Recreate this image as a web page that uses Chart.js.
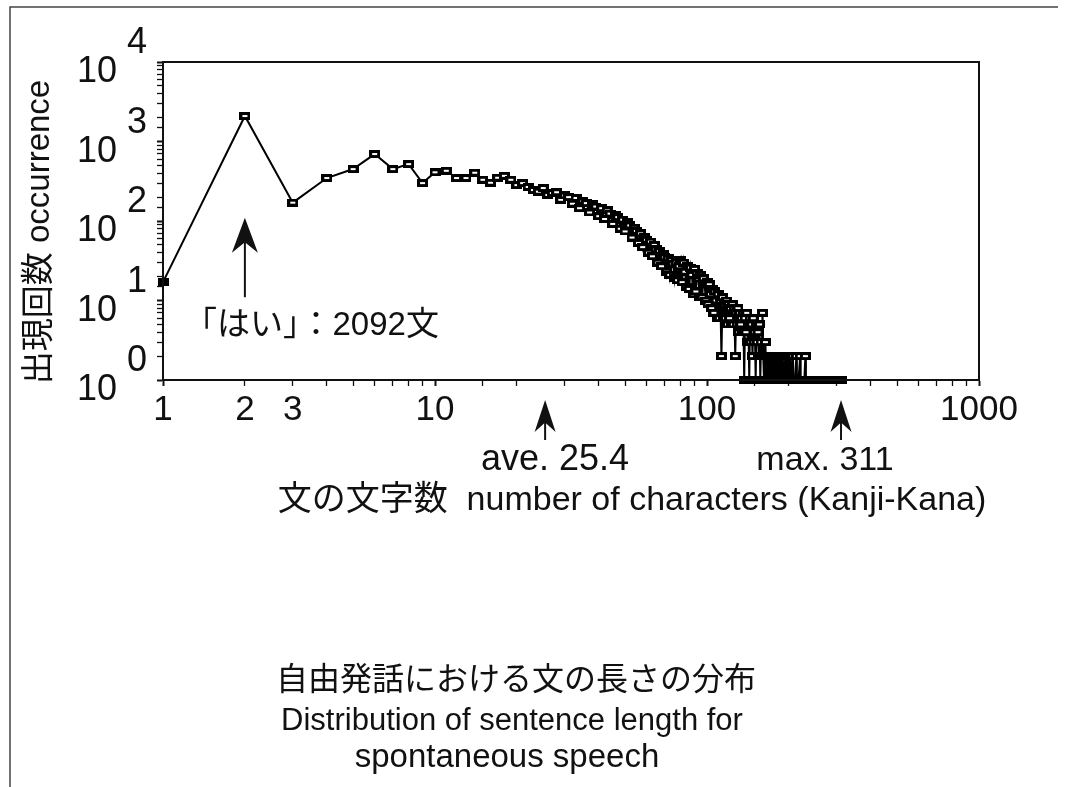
<!DOCTYPE html>
<html>
<head>
<meta charset="utf-8">
<script src="https://cdn.jsdelivr.net/npm/chart.js@4.4.0/dist/chart.umd.min.js"></script>
<style>
  html, body { margin: 0; padding: 0; background: #fff; }
  #wrap { position: relative; width: 1078px; height: 787px; }
</style>
</head>
<body>
<div id="wrap"><canvas id="chart" width="1078" height="787"></canvas></div>
<script>
// sentence length (characters) -> number of sentences; zero counts left out
const sentenceLengths = [
    1, 2, 3, 4, 5, 6, 7, 8, 9, 10, 11, 12, 13, 14, 15, 16, 17, 18, 19, 20,
    21, 22, 23, 24, 25, 26, 27, 28, 29, 30, 31, 32, 33, 34, 35, 36, 37, 38, 39, 40,
    41, 42, 43, 44, 45, 46, 47, 48, 49, 50, 51, 52, 53, 54, 55, 56, 57, 58, 59, 60,
    61, 62, 63, 64, 65, 66, 67, 68, 69, 70, 71, 72, 73, 74, 75, 76, 77, 78, 79, 80,
    81, 82, 83, 84, 85, 86, 87, 88, 89, 90, 91, 92, 93, 94, 95, 96, 97, 98, 99, 100,
    101, 102, 103, 104, 105, 106, 107, 108, 109, 110, 111, 112, 113, 114, 115, 116, 117, 118, 119, 120,
    121, 122, 123, 124, 125, 126, 127, 128, 129, 130, 131, 132, 133, 134, 135, 136, 137, 138, 139, 140,
    141, 142, 143, 144, 145, 146, 147, 148, 149, 150, 151, 152, 153, 154, 155, 156, 157, 158, 159, 160,
    161, 162, 163, 164, 165, 166, 167, 168, 169, 170, 171, 172, 173, 174, 175, 176, 177, 178, 179, 180,
    181, 182, 184, 185, 186, 187, 188, 190, 191, 192, 194, 195, 197, 198, 200, 202, 203, 205, 207, 208,
    211, 213, 214, 217, 220, 221, 224, 228, 230, 231, 236, 241, 245, 252, 258, 263, 270, 276, 284, 290,
    297, 303, 311
];
const sentenceCounts = [
    17, 2092, 170, 347, 450, 695, 450, 520, 300, 410, 428, 347, 347, 405, 330, 303, 350, 370, 330, 283,
    300, 268, 245, 234, 260, 213, 225, 230, 185, 210, 200, 165, 195, 145, 178, 168, 128, 162, 152, 115,
    145, 106, 136, 124, 92, 120, 112, 80, 104, 74, 96, 88, 62, 82, 75, 53, 70, 47, 63, 58,
    40, 55, 36, 50, 44, 30, 42, 27, 38, 35, 23, 34, 21, 32, 29, 19, 30, 18, 27, 32,
    17, 30, 23, 15, 27, 14, 26, 21, 12, 25, 13, 22, 19, 11, 21, 11, 19, 16, 10, 17,
    9, 16, 12, 8, 14, 7, 13, 10, 6, 12, 6, 10, 2, 11, 6, 9, 6, 10, 5, 9,
    6, 8, 5, 9, 5, 8, 2, 7, 5, 8, 4, 7, 5, 6, 4, 7, 1, 6, 4, 7,
    3, 5, 1, 6, 3, 5, 2, 6, 3, 4, 1, 5, 3, 4, 2, 5, 1, 3, 2, 7,
    2, 1, 2, 3, 1, 2, 2, 1, 2, 1, 2, 1, 1, 2, 1, 2, 1, 2, 1, 1,
    2, 1, 2, 1, 1, 2, 1, 2, 1, 1, 2, 1, 1, 2, 1, 2, 1, 1, 2, 1,
    1, 2, 1, 1, 2, 1, 1, 1, 2, 1, 1, 1, 1, 1, 1, 1, 1, 1, 1, 1,
    1, 1, 1
];
const xTickLabels = [1, 2, 3, 10, 100, 1000];
const yDecades = [1, 10, 100, 1000, 10000];

const haiX = 2;          // 「はい」 arrow
const aveLength = 25.4;  // average sentence length
const maxLength = 311;   // longest sentence

const LATIN = '"Liberation Sans", Arial, Helvetica, "Noto Sans CJK JP", sans-serif';
const INK = '#111';

function isDecade(v) {
    if (!v) return false;
    const l = Math.log10(v);
    return Math.abs(l - Math.round(l)) < 1e-6;
}

// box marker, wider than tall with a heavy outline like the scanned symbol
function boxMarker(filled) {
    const c = document.createElement('canvas');
    c.width = 11; c.height = 8;
    const g = c.getContext('2d');
    g.fillStyle = '#000';
    g.fillRect(0, 0, 11, 8);
    if (!filled) {
        g.fillStyle = '#fff';
        g.fillRect(3, 3, 5, 2);
    }
    return c;
}
const openBox = boxMarker(false);
const solidBox = boxMarker(true);

function drawArrow(ctx, x, tipY, endY, headLen, headW) {
    ctx.beginPath();
    ctx.moveTo(x, tipY);
    ctx.lineTo(x + headW / 2, tipY + headLen);
    ctx.lineTo(x, tipY + headLen * 0.7);
    ctx.lineTo(x - headW / 2, tipY + headLen);
    ctx.closePath();
    ctx.fill();
    ctx.beginPath();
    ctx.moveTo(x, tipY + headLen * 0.6);
    ctx.lineTo(x, endY);
    ctx.stroke();
}

const figureDecor = {
    id: 'figureDecor',
    afterDraw(chart) {
        const { ctx, chartArea: a, scales: { x, y } } = chart;
        ctx.save();

        // plot frame
        ctx.strokeStyle = INK;
        ctx.lineWidth = 2;
        ctx.strokeRect(a.left, a.top, a.right - a.left, a.bottom - a.top);

        // page border (left + top)
        ctx.strokeStyle = '#444';
        ctx.lineWidth = 1.5;
        ctx.beginPath();
        ctx.moveTo(10, 787);
        ctx.lineTo(10, 7);
        ctx.lineTo(1058, 7);
        ctx.stroke();

        // y tick labels: 10 with exponent
        ctx.fillStyle = INK;
        ctx.font = '36px ' + LATIN;
        ctx.textBaseline = 'alphabetic';
        yDecades.forEach(v => {
            const py = y.getPixelForValue(v);
            ctx.textAlign = 'right';
            ctx.fillText('10', 117, py + 20);
            ctx.textAlign = 'left';
            ctx.fillText(String(Math.round(Math.log10(v))), 127, py - 9);
        });

        // x tick labels
        ctx.font = '35px ' + LATIN;
        ctx.textAlign = 'center';
        xTickLabels.forEach(v => {
            ctx.fillText(String(v), x.getPixelForValue(v), a.bottom + 40);
        });

        // y title (rotated)
        ctx.save();
        ctx.translate(40, 232);
        ctx.rotate(-Math.PI / 2);
        ctx.textAlign = 'center';
        ctx.textBaseline = 'middle';
        ctx.font = '33px ' + LATIN;
        ctx.fillText('出現回数 occurrence', 0, 0);
        ctx.restore();

        // 「はい」 arrow and note
        ctx.strokeStyle = INK;
        ctx.fillStyle = INK;
        ctx.lineWidth = 2;
        const hx = x.getPixelForValue(haiX);
        drawArrow(ctx, hx, y.getPixelForValue(110), y.getPixelForValue(11), 35, 26);
        ctx.font = '33px ' + LATIN;
        ctx.textAlign = 'left';
        ctx.fillText('「はい」：2092文', 184, 335);

        // average / max arrows under the axis
        [aveLength, maxLength].forEach(v => {
            drawArrow(ctx, x.getPixelForValue(v), a.bottom + 20, a.bottom + 60, 32, 21);
        });
        ctx.textAlign = 'center';
        ctx.font = '36px ' + LATIN;
        ctx.fillText('ave. 25.4', 555, 470);
        ctx.font = '34px ' + LATIN;
        ctx.fillText('max. 311', 825, 470);

        // x title
        ctx.font = '34px ' + LATIN;
        ctx.fillText('文の文字数  number of characters (Kanji-Kana)', 632, 510);

        // caption
        ctx.font = '32px ' + LATIN;
        ctx.fillText('自由発話における文の長さの分布', 516, 690);
        ctx.font = '31px ' + LATIN;
        ctx.fillText('Distribution of sentence length for', 512, 730);
        ctx.font = '33px ' + LATIN;
        ctx.fillText('spontaneous speech', 507, 767);

        ctx.restore();
    }
};

const points = sentenceLengths.map((len, i) => ({ x: len, y: sentenceCounts[i] }));

new Chart(document.getElementById('chart'), {
    type: 'line',
    data: {
        datasets: [{
            label: 'occurrence',
            data: points,
            borderColor: '#000',
            borderWidth: 2,
            tension: 0,
            pointStyle: c => c.dataIndex === 0 ? solidBox : openBox,
            pointRadius: 5,
            clip: 8
        }]
    },
    options: {
        responsive: false,
        animation: false,
        devicePixelRatio: 1,
        layout: { padding: { left: 163, right: 99, top: 62, bottom: 407 } },
        plugins: {
            legend: { display: false },
            tooltip: { enabled: false }
        },
        scales: {
            x: {
                type: 'logarithmic',
                min: 1,
                max: 1000,
                afterFit: s => { s.height = 0; },
                border: { display: true, color: INK, width: 2 },
                grid: {
                    drawOnChartArea: false,
                    drawTicks: true,
                    tickLength: 6,
                    tickColor: INK,
                    tickWidth: c => (c.tick && isDecade(c.tick.value)) ? 2 : 1.3
                },
                ticks: { autoSkip: false, maxRotation: 0, display: false }
            },
            y: {
                type: 'logarithmic',
                min: 1,
                max: 10000,
                afterFit: s => { s.width = 0; },
                border: { display: true, color: INK, width: 2 },
                grid: {
                    drawOnChartArea: false,
                    drawTicks: true,
                    tickLength: 6,
                    tickColor: INK,
                    tickWidth: c => (c.tick && isDecade(c.tick.value)) ? 2 : 1.3
                },
                ticks: { display: false }
            }
        }
    },
    plugins: [figureDecor]
});
</script>
</body>
</html>
